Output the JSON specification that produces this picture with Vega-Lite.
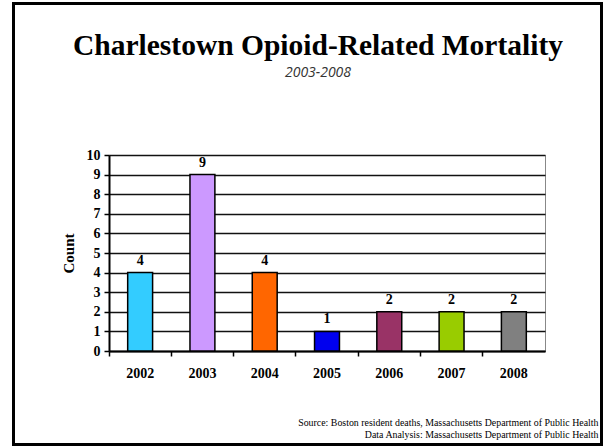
{
  "$schema": "https://vega.github.io/schema/vega-lite/v6.json",
  "width": 436,
  "height": 196,
  "autosize": {"type": "none"},
  "padding": {"left": 109, "top": 155, "right": 60, "bottom": 96},
  "background": "white",
  "config": {"view": {"stroke": "#888888", "strokeWidth": 1}},
  "title": {
    "text": "Charlestown Opioid-Related Mortality",
    "subtitle": "2003-2008",
    "font": "Liberation Serif",
    "fontSize": 29.5,
    "fontWeight": "bold",
    "color": "black",
    "subtitleFont": "Open Sans",
    "subtitleFontStyle": "italic",
    "subtitleFontSize": 14,
    "subtitleColor": "#333333",
    "subtitlePadding": 5,
    "anchor": "middle",
    "dx": -9,
    "offset": -79
  },
  "data": {
    "values": [
      {"year": "2002", "count": 4},
      {"year": "2003", "count": 9},
      {"year": "2004", "count": 4},
      {"year": "2005", "count": 1},
      {"year": "2006", "count": 2},
      {"year": "2007", "count": 2},
      {"year": "2008", "count": 2}
    ]
  },
  "encoding": {
    "x": {
      "field": "year",
      "type": "ordinal",
      "scale": {"paddingInner": 0, "paddingOuter": 0},
      "axis": {
        "title": [
          "Source: Boston resident deaths, Massachusetts Department of Public Health",
          "Data Analysis:  Massachusetts Department of Public Health"
        ],
        "titleFont": "Liberation Serif",
        "titleFontSize": 9.9,
        "titleFontWeight": "normal",
        "titleColor": "black",
        "titleAlign": "right",
        "titleAnchor": "end",
        "titleX": 489,
        "titleY": 66,
        "titleBaseline": "top",
        "titleLineHeight": 12,
        "labelAngle": 0,
        "labelFont": "Liberation Serif",
        "labelFontSize": 14,
        "labelFontWeight": "bold",
        "labelColor": "black",
        "labelPadding": 10,
        "labelOffset": 0,
        "bandPosition": 0,
        "tickSize": 5,
        "tickColor": "black",
        "tickWidth": 1.5,
        "domainColor": "black",
        "domainWidth": 2,
        "grid": false
      }
    },
    "y": {
      "field": "count",
      "type": "quantitative",
      "scale": {"domain": [0, 10]},
      "axis": {
        "values": [0, 1, 2, 3, 4, 5, 6, 7, 8, 9, 10],
        "labelOverlap": false,
        "title": "Count",
        "titleFont": "Liberation Serif",
        "titleFontSize": 15,
        "titleFontWeight": "bold",
        "titleColor": "black",
        "titlePadding": 10,
        "labelFont": "Liberation Serif",
        "labelFontSize": 14,
        "labelFontWeight": "bold",
        "labelColor": "black",
        "labelPadding": 4,
        "tickSize": 5,
        "tickColor": "black",
        "tickWidth": 1.5,
        "domainColor": "black",
        "domainWidth": 2,
        "gridColor": "#111111",
        "gridWidth": 1.5,
        "gridOpacity": 1
      }
    }
  },
  "layer": [
    {
      "mark": {"type": "bar", "width": {"band": 0.4}, "stroke": "black", "strokeWidth": 1.5},
      "encoding": {
        "color": {
          "field": "year",
          "type": "nominal",
          "scale": {"range": ["#33CCFF", "#CC99FF", "#FF6600", "#0000EE", "#993366", "#99CC00", "#808080"]},
          "legend": null
        }
      }
    },
    {
      "mark": {"type": "text", "font": "Liberation Serif", "fontSize": 14, "fontWeight": "bold", "color": "black", "baseline": "alphabetic", "dy": -8},
      "encoding": {
        "text": {"field": "count", "type": "quantitative"}
      }
    },
    {
      "data": {"values": [{}]},
      "mark": {"type": "rect", "fill": "transparent", "stroke": "black", "strokeWidth": 3},
      "encoding": {
        "x": {"value": -95.5},
        "x2": {"value": 492.5},
        "y": {"value": -151.5},
        "y2": {"value": 289.5}
      }
    }
  ]
}
